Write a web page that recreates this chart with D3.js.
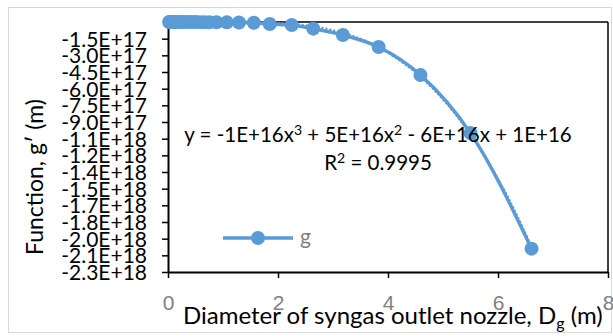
<!DOCTYPE html>
<html lang="en">
<head>
<meta charset="UTF-8">
<title>Function g' vs nozzle diameter</title>
<style>
  body { margin: 0; background: #fff; }
  svg { font-family: Lato, "Open Sans", sans-serif; }
</style>
</head>
<body>
<svg class="chart-svg" width="613" height="336"></svg>
<script src="https://d3js.org/d3.v7.min.js"></script>
<script>
// data
var diameters = [0.02, 0.04, 0.06, 0.08, 0.1, 0.13, 0.16, 0.2, 0.25, 0.3, 0.36, 0.43, 0.5, 0.58, 0.66, 0.75, 0.88,
                 1.07, 1.29, 1.56, 1.85, 2.25, 2.64, 3.18, 3.83, 4.59, 5.5, 6.61];
var gValues = [-1e13, -2e13, -4e13, -6e13, -1e14, -1.5e14, -2e14, -3e14, -4e14, -5e14, -6e14, -8e14, -1e15, -1.2e15, -1.5e15, -1.8e15, -2e15,
               -3e15, -5e15, -7e15, -1.8e16, -2.7e16, -6e16, -1.17e17, -2.25e17, -4.77e17, -1.0e18, -2.04e18];
var yTicks = [-1.5e17, -3.0e17, -4.5e17, -6.0e17, -7.5e17, -9.0e17, -1.05e18, -1.2e18, -1.35e18, -1.5e18, -1.65e18, -1.8e18, -1.95e18, -2.1e18, -2.25e18];
var yTickLabels = ["-1.5E+17", "-3.0E+17", "-4.5E+17", "-6.0E+17", "-7.5E+17", "-9.0E+17", "-1.1E+18", "-1.2E+18", "-1.4E+18",
                   "-1.5E+18", "-1.7E+18", "-1.8E+18", "-2.0E+18", "-2.1E+18", "-2.3E+18"];
var xTicks = [0, 2, 4, 6, 8];

var blue = "#5b9bd5";
var svg = d3.select(".chart-svg");

// outer frame
svg.append("rect").attr("x", 8.5).attr("y", 7.5).attr("width", 603).attr("height", 325)
  .attr("fill", "none").attr("stroke", "#d9d9d9");

var plotL = 168, plotR = 608, plotT = 22, plotB = 272;
var x = d3.scaleLinear().domain([0, 8]).range([plotL, plotR]);
var y = d3.scaleLinear().domain([-2.25e18, 0]).range([plotB, plotT]);

// plot box top and right edges
svg.append("line").attr("x1", plotL).attr("x2", plotR).attr("y1", plotT).attr("y2", plotT).attr("stroke", "#000").attr("stroke-width", 1.5);
svg.append("line").attr("x1", plotR).attr("x2", plotR).attr("y1", plotT).attr("y2", plotB).attr("stroke", "#000").attr("stroke-width", 1.5);

// y axis
var yAxis = svg.append("g").attr("transform", "translate(" + plotL + ",0)")
  .call(d3.axisLeft(y).tickValues(yTicks).tickSize(6).tickSizeOuter(0)
    .tickFormat(function(d, i) { return yTickLabels[i]; }));
yAxis.select(".domain").attr("stroke-width", 2);
yAxis.selectAll(".tick line").attr("stroke-width", 1.5);
yAxis.selectAll(".tick text").attr("font-size", 21).attr("fill", "#000").attr("x", -21)
  .attr("font-family", "'Liberation Sans Narrow', Lato, sans-serif").attr("dy", "0.35em");

// x axis
var xAxis = svg.append("g").attr("transform", "translate(0," + plotB + ")")
  .call(d3.axisBottom(x).tickValues(xTicks).tickSize(6).tickSizeOuter(0));
xAxis.select(".domain").attr("stroke-width", 2);
xAxis.selectAll(".tick line").attr("stroke-width", 1.5);
xAxis.selectAll(".tick text").attr("font-size", 21).attr("fill", "#808080").attr("y", 23).attr("dy", "0.71em");

// cubic least-squares trendline from the data
function cubicFit(xs, ys) {
  var n = 4, A = [], i, j, k;
  for (i = 0; i < n; i++) { A.push(new Array(n + 1).fill(0)); }
  xs.forEach(function(xv, m) {
    for (i = 0; i < n; i++) {
      for (j = 0; j < n; j++) A[i][j] += Math.pow(xv, i + j);
      A[i][n] += ys[m] * Math.pow(xv, i);
    }
  });
  for (i = 0; i < n; i++) {
    var p = i;
    for (k = i + 1; k < n; k++) if (Math.abs(A[k][i]) > Math.abs(A[p][i])) p = k;
    var t = A[i]; A[i] = A[p]; A[p] = t;
    for (k = i + 1; k < n; k++) {
      var f = A[k][i] / A[i][i];
      for (j = i; j <= n; j++) A[k][j] -= f * A[i][j];
    }
  }
  var c = new Array(n).fill(0);
  for (i = n - 1; i >= 0; i--) {
    var s = A[i][n];
    for (j = i + 1; j < n; j++) s -= A[i][j] * c[j];
    c[i] = s / A[i][i];
  }
  return c;
}
var coef = cubicFit(diameters, gValues);
var trend = d3.range(0, 6.62, 0.05).map(function(d) {
  return [d, coef[0] + coef[1] * d + coef[2] * d * d + coef[3] * d * d * d];
}).filter(function(p) { return p[1] <= 0; });

svg.append("path").datum(trend)
  .attr("fill", "none").attr("stroke", blue).attr("stroke-width", 2.5)
  .attr("stroke-dasharray", "2,2")
  .attr("d", d3.line().x(function(p) { return x(p[0]); }).y(function(p) { return y(p[1]); }));

// series line and markers
var pts = diameters.map(function(d, i) { return [d, gValues[i]]; });
svg.append("path").datum(pts)
  .attr("fill", "none").attr("stroke", blue).attr("stroke-width", 3.5)
  .attr("d", d3.line().curve(d3.curveMonotoneX).x(function(p) { return x(p[0]); }).y(function(p) { return y(p[1]); }));
svg.selectAll("circle.pt").data(pts).enter().append("circle").attr("class", "pt")
  .attr("cx", function(p) { return x(p[0]); }).attr("cy", function(p) { return y(p[1]); })
  .attr("r", 7).attr("fill", blue);

// equation label
var eq = svg.append("text").attr("x", 378).attr("y", 142).attr("text-anchor", "middle")
  .attr("font-size", 20.5).attr("fill", "#000");
eq.append("tspan").text("y = -1E+16x");
eq.append("tspan").attr("font-size", 14).attr("dy", -7).text("3");
eq.append("tspan").attr("dy", 7).text(" + 5E+16x");
eq.append("tspan").attr("font-size", 14).attr("dy", -7).text("2");
eq.append("tspan").attr("dy", 7).text(" - 6E+16x + 1E+16");
var r2 = svg.append("text").attr("x", 378).attr("y", 170).attr("text-anchor", "middle")
  .attr("font-size", 20.5).attr("fill", "#000");
r2.append("tspan").text("R");
r2.append("tspan").attr("font-size", 14).attr("dy", -7).text("2");
r2.append("tspan").attr("dy", 7).text(" = 0.9995");

// legend
svg.append("line").attr("x1", 223).attr("x2", 293).attr("y1", 238).attr("y2", 238)
  .attr("stroke", blue).attr("stroke-width", 3.5);
svg.append("circle").attr("cx", 258).attr("cy", 238).attr("r", 7).attr("fill", blue);
svg.append("text").attr("x", 300).attr("y", 244).attr("font-size", 21).attr("fill", "#808080").text("g");

// axis titles
svg.append("text").attr("transform", "translate(43,177) rotate(-90)").attr("text-anchor", "middle")
  .attr("font-size", 23).attr("fill", "#000").text("Function, g\u2032 (m)");
var xt = svg.append("text").attr("x", 183).attr("y", 324).attr("font-size", 24).attr("fill", "#000");
xt.append("tspan").text("Diameter of syngas outlet nozzle, D");
xt.append("tspan").attr("font-size", 16).attr("dy", 5).text("g");
xt.append("tspan").attr("dy", -5).text(" (m)");
</script>
</body>
</html>
